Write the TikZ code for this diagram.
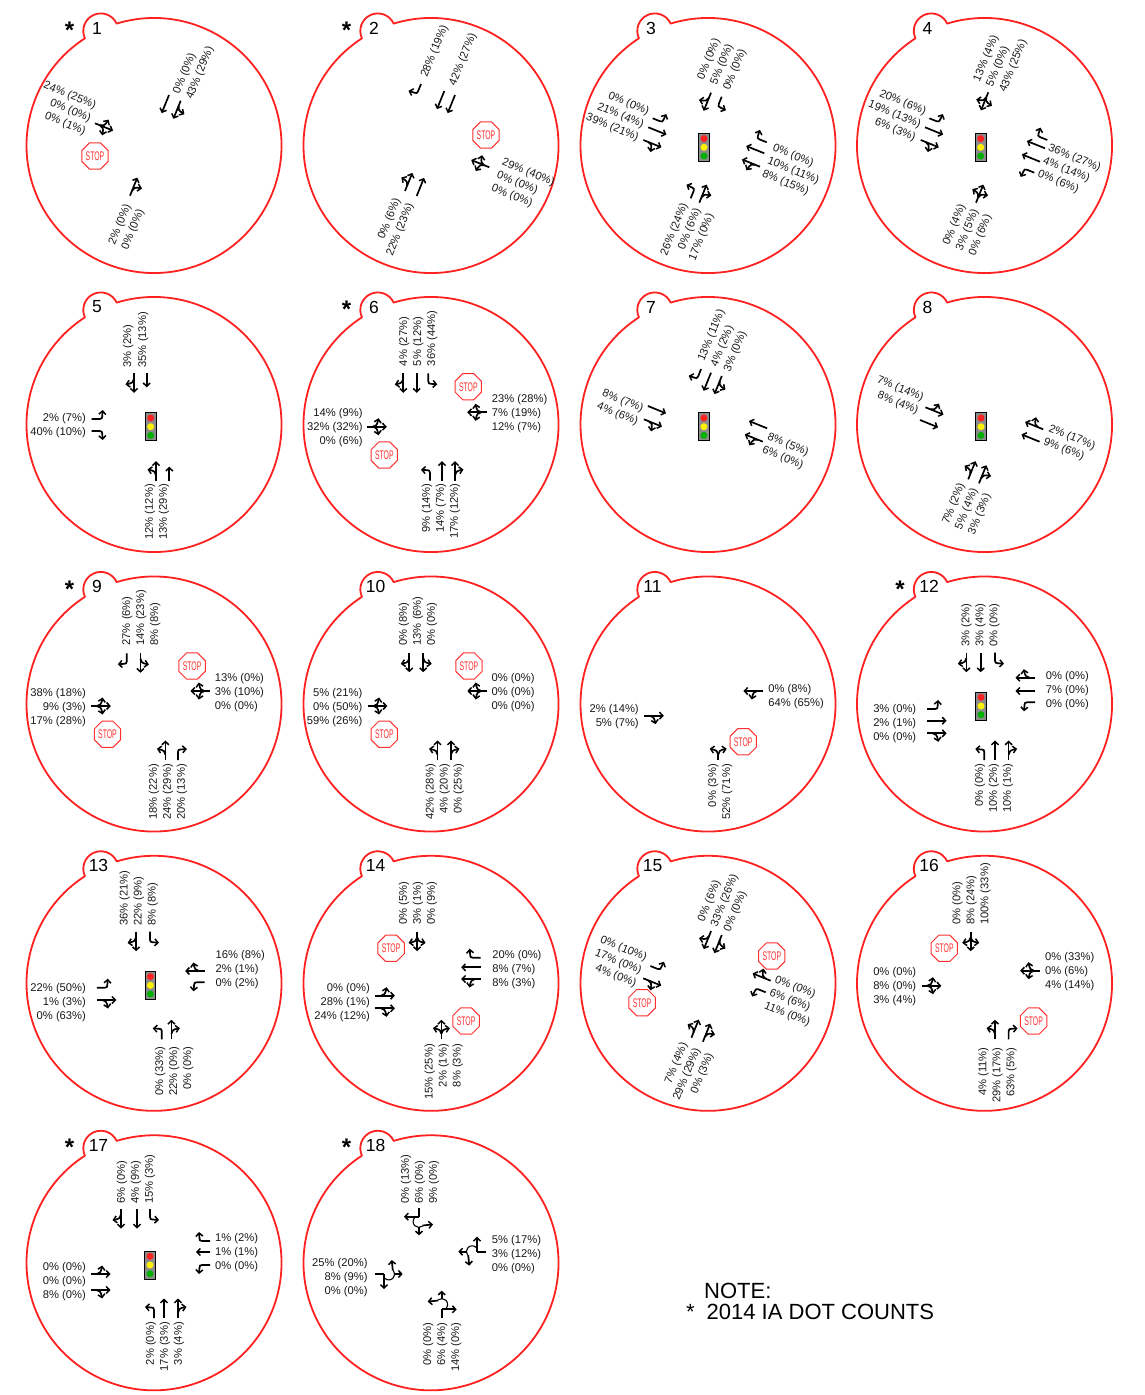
\documentclass[tikz,border=0pt]{standalone}
\usepackage{fontspec}
\setmainfont{Liberation Sans}
\usetikzlibrary{arrows.meta,calc,shapes.geometric}
\definecolor{ringred}{HTML}{FF2020}
\definecolor{stopred}{HTML}{FF3030}
\definecolor{sigred}{HTML}{FF2020}
\definecolor{siggreen}{HTML}{00B000}
\newcount\lbcnt
\tikzset{
 ring/.style={draw=ringred,line width=1.8pt,line join=round},
 mv/.style={draw=black,line width=1.7pt,-{Straight Barb[length=3.3pt,width=7pt,line width=1.5pt]}},
 mvplain/.style={draw=black,line width=1.7pt},
 mvthin/.style={draw=black,line width=1.1pt},
 lab/.style={inner sep=0pt,font=\fontsize{11.2}{13}\selectfont,text=black!90},
 stopsign/.style={regular polygon,regular polygon sides=8,draw=stopred,line width=1pt,fill=white,minimum size=25pt,inner sep=0pt,text=stopred,font=\fontsize{12.5}{12.5}\selectfont},
 numlab/.style={inner sep=0pt,font=\fontsize{17.5}{20}\selectfont},
 starlab/.style={inner sep=0pt,anchor=base,font=\bfseries\fontsize{24}{26}\selectfont},
 notelab/.style={inner sep=0pt,anchor=base west,font=\fontsize{22}{24}\selectfont}
}
\newcommand\glT{\draw[mv](0,0)--(0,19.5);}
\newcommand\glS{\draw[mv](0,0)--(0,14);}
\newcommand\glL{\draw[mv](0,0)--(0,8) .. controls (0,10) and (-1,10.5) .. (-2.5,10.5) -- (-9,11);}
\newcommand\glR{\draw[mv](0,0)--(0,8) .. controls (0,10) and (1,10.5) .. (2.5,10.5) -- (9,11);}
\newcommand\brL{\draw[mv](0,5.5) .. controls (0,8.5) and (-2,10) .. (-8.5,11.2);}
\newcommand\brR{\draw[mv](0,5.5) .. controls (0,8.5) and (2,10) .. (8.5,11.2);}
\newcommand\glLT{\brL\glT}
\newcommand\glTR{\brR\glT}
\newcommand\glLTR{\brL\brR\glT}
\newcommand\glLR{\draw[mvplain](0,0)--(0,7);\brL\brR}
\newcommand\glO{\draw[mvplain](0,0)--(0,9);
 \draw[mv](0,9)--(15,9);
 \draw[mvthin](4.2,9.8) arc[start angle=-45,end angle=130,radius=5.8];
 \draw[mv](0,19)--(0,27.7);
 \draw[mv](-3.5,17.8) -- (-14,16.7);}
\newcommand\Ar[4]{\begin{scope}[shift={(#1,-#2)},rotate=#3]\csname gl#4\endcsname\end{scope}}
\newcommand\Lb[5]{\foreach \lbl [count=\i from 0] in {#5}{%
  \global\advance\lbcnt by 1
  \node[lab,rotate=#3,anchor=mid #4] (t\the\lbcnt) at ($(#1,-#2)+(#3-90:\i*14+1.3)$) {\lbl};}}
\newcommand\Stop[2]{\global\advance\lbcnt by 1
  \node[stopsign] (s\the\lbcnt) at (#1,-#2) {\scalebox{.55}[1]{STOP}};}
\newcommand\Sig[2]{\begin{scope}[shift={(#1,-#2)}]
  \draw[fill=black!45,draw=black,line width=.8pt] (-5.3,-14) rectangle (5.3,14);
  \fill[sigred] (0,8.7) circle (3.5);
  \fill[yellow] (0,0) circle (3.5);
  \fill[siggreen] (0,-8.7) circle (3.5);
  \end{scope}}
\newcommand\Ring[4]{\begin{scope}[shift={(#1,-#2)}]
  \draw[ring] (107:127.5) arc[start angle=107,end angle=-237.2,radius=127.5] arc[start angle=205,end angle=25,radius=17.5] -- cycle;
  \ifnum#3>9 \node[numlab] (n#3) at (-55.5,117.5) {#3};\else \node[numlab] (n#3) at (-57,117.5) {#3};\fi
  \ifnum#4=1 \node[starlab] (st#3) at (-84.5,107) {*};\fi
  \end{scope}}
\begin{document}
\begin{tikzpicture}[x=1pt,y=1pt]
\useasboundingbox (0,0) rectangle (1144,-1395);
% 1
\Ring{154}{145.5}{1}{1}
\Ar{95}{123.3}{-112}{LTR}
\Ar{130}{195.7}{-22}{TR}
\Ar{169}{95}{158}{T}
\Ar{180.7}{100.7}{158}{LT}
\Stop{95}{156}
\Lb{96}{105}{-22}{east}{24\% (25\%),0\% (0\%),0\% (1\%)}
\Lb{127.3}{204}{68}{east}{2\% (0\%),0\% (0\%)}
\Lb{175.7}{93.3}{68}{west}{0\% (0\%),43\% (29\%)}
% 2
\Ring{431}{145.5}{2}{1}
\Ar{421}{84}{158}{R}
\Ar{444.3}{91}{158}{T}
\Ar{455}{95}{158}{T}
\Ar{405}{191}{-22}{LT}
\Ar{416.7}{196}{-22}{T}
\Ar{489.3}{167.3}{68}{LTR}
\Stop{486}{135}
\Lb{502.7}{161}{-22}{west}{29\% (40\%),0\% (0\%),0\% (0\%)}
\Lb{423.3}{76.7}{68}{west}{28\% (19\%)}
\Lb{451.7}{85}{68}{west}{42\% (27\%)}
\Lb{396.7}{198.3}{68}{east}{0\% (6\%),22\% (23\%)}
% 3
\Ring{708}{145.5}{3}{0}
\Sig{704}{147.3}
\Ar{711}{92.7}{158}{TR}
\Ar{721.7}{96.7}{158}{L}
\Lb{700}{79}{68}{west}{0\% (0\%),5\% (0\%),0\% (0\%)}
\Ar{652.7}{118.3}{-112}{L}
\Ar{648.3}{127.3}{-112}{T}
\Ar{643.3}{140}{-112}{TR}
\Lb{649}{111}{-22}{east}{0\% (0\%),21\% (4\%),39\% (21\%)}
\Ar{766.7}{142.3}{68}{R}
\Ar{764.3}{153.3}{68}{T}
\Ar{760}{166.7}{68}{LT}
\Lb{773.3}{146.7}{-22}{west}{0\% (0\%),10\% (11\%),8\% (15\%)}
\Ar{690.7}{198.3}{-22}{L}
\Ar{699.3}{202.7}{-22}{TR}
\Lb{684}{203.3}{68}{east}{26\% (24\%),0\% (6\%),17\% (0\%)}
% 4
\Ring{984.5}{145.5}{4}{0}
\Sig{980.7}{147.3}
\Ar{988.3}{92.3}{158}{LTR}
\Lb{976}{81}{68}{west}{13\% (4\%),5\% (0\%),43\% (25\%)}
\Ar{929.3}{118.3}{-112}{L}
\Ar{925}{127.3}{-112}{T}
\Ar{920.7}{140}{-112}{TR}
\Lb{926}{111}{-22}{east}{20\% (6\%),19\% (13\%),6\% (3\%)}
\Ar{1047.3}{140}{68}{R}
\Ar{1045}{148.3}{68}{T}
\Ar{1040}{161.7}{68}{T}
\Ar{1034.3}{172.7}{68}{L}
\Lb{1049}{146.7}{-22}{west}{36\% (27\%),4\% (14\%),0\% (6\%)}
\Ar{976}{202.7}{-22}{LTR}
\Lb{961.7}{204.3}{68}{east}{0\% (4\%),3\% (5\%),0\% (6\%)}
% 5
\Ring{154}{424.5}{5}{0}
\Sig{150.7}{426.7}
\Ar{134}{373.3}{180}{TR}
\Ar{146.7}{373.3}{180}{S}
\Lb{127.3}{367.7}{90}{west}{3\% (2\%)}
\Lb{142.3}{367.7}{90}{west}{35\% (13\%)}
\Ar{91.7}{419}{-90}{L}
\Ar{91.7}{431}{-90}{R}
\Lb{86}{417.7}{0}{east}{2\% (7\%),40\% (10\%)}
\Ar{156}{480.7}{0}{LT}
\Ar{169.3}{480.7}{0}{S}
\Lb{149}{484}{90}{east}{12\% (12\%),13\% (29\%)}
% 6
\Ring{431}{424.5}{6}{1}
\Ar{403.3}{373.3}{180}{TR}
\Ar{416.7}{373.3}{180}{T}
\Ar{428.3}{373.3}{180}{L}
\Lb{403.3}{366.3}{90}{west}{4\% (27\%),5\% (12\%),36\% (44\%)}
\Ar{486.7}{412.3}{90}{LTR}
\Lb{491.7}{398.3}{0}{west}{23\% (28\%),7\% (19\%),12\% (7\%)}
\Ar{367.3}{426.7}{-90}{LTR}
\Lb{362.7}{412.7}{0}{east}{14\% (9\%),32\% (32\%),0\% (6\%)}
\Ar{430}{480.7}{0}{L}
\Ar{442}{480.7}{0}{T}
\Ar{455}{480.7}{0}{TR}
\Lb{426}{483.3}{90}{east}{9\% (14\%),14\% (7\%),17\% (12\%)}
\Stop{468.3}{386.7}
\Stop{384.3}{455}
% 7
\Ring{708}{424.5}{7}{0}
\Sig{703.9}{426.7}
\Ar{701.1}{369}{158}{R}
\Ar{711}{372.7}{158}{T}
\Ar{721.8}{376}{158}{LT}
\Lb{700.4}{360.7}{68}{west}{13\% (11\%),4\% (2\%),3\% (0\%)}
\Ar{647.9}{406}{-112}{T}
\Ar{643.9}{419.3}{-112}{TR}
\Lb{643.2}{408.3}{-22}{east}{8\% (7\%),4\% (6\%)}
\Ar{767.1}{428.3}{68}{T}
\Ar{762.9}{441.7}{68}{LT}
\Lb{768.2}{435.7}{-22}{west}{8\% (5\%),6\% (0\%)}
% 8
\Ring{984.5}{424.5}{8}{0}
\Sig{981}{426.7}
\Ar{925.4}{407.3}{-112}{LT}
\Ar{920}{420}{-112}{T}
\Lb{923.6}{397.3}{-22}{east}{7\% (14\%),8\% (4\%)}
\Ar{1043.2}{429.3}{68}{TR}
\Ar{1039.6}{441.7}{68}{T}
\Lb{1049.3}{427.3}{-22}{west}{2\% (17\%),9\% (6\%)}
\Ar{968.2}{479.3}{-22}{LT}
\Ar{979}{483.3}{-22}{TR}
\Lb{961}{483.3}{68}{east}{7\% (2\%),5\% (4\%),3\% (3\%)}
% 9
\Ring{154}{704}{9}{1}
\Ar{126.8}{653.3}{180}{R}
\Ar{140.4}{653.3}{180}{LT}
\Lb{126.1}{645.7}{90}{west}{27\% (6\%),14\% (23\%),8\% (8\%)}
\Ar{210}{691}{90}{LTR}
\Lb{214.6}{677.7}{0}{west}{13\% (0\%),3\% (10\%),0\% (0\%)}
\Ar{91.4}{706}{-90}{LTR}
\Lb{86}{692.3}{0}{east}{38\% (18\%),9\% (3\%),17\% (28\%)}
\Ar{165.4}{760}{0}{LT}
\Ar{177.9}{760}{0}{R}
\Lb{152.9}{764}{90}{east}{18\% (22\%),24\% (29\%),20\% (13\%)}
\Stop{192.1}{666}
\Stop{107.5}{734.3}
% 10
\Ring{431}{704}{10}{0}
\Ar{409.3}{652.7}{180}{TR}
\Ar{423.2}{652.7}{180}{LT}
\Lb{402.9}{645.7}{90}{west}{0\% (8\%),13\% (6\%),0\% (0\%)}
\Ar{486.8}{691}{90}{LTR}
\Lb{491.4}{677.7}{0}{west}{0\% (0\%),0\% (0\%),0\% (0\%)}
\Ar{367.9}{706}{-90}{LTR}
\Lb{362.5}{692.3}{0}{east}{5\% (21\%),0\% (50\%),59\% (26\%)}
\Ar{437.5}{760}{0}{LT}
\Ar{451}{760}{0}{TR}
\Lb{429.6}{764}{90}{east}{42\% (28\%),4\% (20\%),0\% (25\%)}
\Stop{468.9}{666}
\Stop{384.3}{734.3}
% 11
\Ring{708}{704}{11}{0}
\Ar{762.9}{691}{90}{LT}
\Lb{768.2}{689}{0}{west}{0\% (8\%),64\% (65\%)}
\Ar{644.3}{715.7}{-90}{TR}
\Lb{638.9}{709}{0}{east}{2\% (14\%),5\% (7\%)}
\Ar{718.2}{760}{0}{LR}
\Lb{712.1}{764}{90}{east}{0\% (3\%),52\% (71\%)}
\Stop{743.2}{741.7}
% 12
\Ring{984.5}{704}{12}{1}
\Sig{981}{706}
\Ar{966.4}{652.7}{180}{TR}
\Ar{980.7}{652.7}{180}{T}
\Ar{995}{652.7}{180}{L}
\Lb{965.4}{646.7}{90}{west}{3\% (2\%),3\% (4\%),0\% (0\%)}
\Ar{1035}{677.7}{90}{TR}
\Ar{1035}{691}{90}{T}
\Ar{1035}{702.3}{90}{L}
\Lb{1045.7}{675.7}{0}{west}{0\% (0\%),7\% (0\%),0\% (0\%)}
\Ar{927.1}{709}{-90}{L}
\Ar{927.1}{720.7}{-90}{T}
\Ar{927.1}{733.3}{-90}{TR}
\Lb{916.4}{708.3}{0}{east}{3\% (0\%),2\% (1\%),0\% (0\%)}
\Ar{984.3}{760}{0}{L}
\Ar{995}{760}{0}{T}
\Ar{1008.6}{760}{0}{TR}
\Lb{978.9}{763.3}{90}{east}{0\% (0\%),10\% (2\%),10\% (1\%)}
% 13
\Ring{154}{983.3}{13}{0}
\Sig{150.4}{985.3}
\Ar{136.1}{931.7}{180}{TR}
\Ar{150}{931.7}{180}{L}
\Lb{123.6}{926}{90}{west}{36\% (21\%),22\% (9\%),8\% (8\%)}
\Ar{204.6}{971}{90}{TR}
\Ar{204.6}{982.3}{90}{L}
\Lb{215.4}{955}{0}{west}{16\% (8\%),2\% (1\%),0\% (2\%)}
\Ar{96.8}{987.7}{-90}{L}
\Ar{96.8}{1000}{-90}{TR}
\Lb{86.1}{987.7}{0}{east}{22\% (50\%),1\% (3\%),0\% (63\%)}
\Ar{161.8}{1039.3}{0}{L}
\Ar{171.4}{1039.3}{0}{TR}
\Lb{159.3}{1046.3}{90}{east}{0\% (33\%),22\% (0\%),0\% (0\%)}
% 14
\Ring{431}{983.3}{14}{0}
\Ar{417.1}{931.7}{180}{LTR}
\Lb{402.9}{925}{90}{west}{0\% (5\%),3\% (1\%),0\% (9\%)}
\Stop{391.1}{948.3}
\Ar{480.7}{957.7}{90}{R}
\Ar{480.7}{967.3}{90}{T}
\Ar{480.7}{979}{90}{LT}
\Lb{492.1}{955}{0}{west}{20\% (0\%),8\% (7\%),8\% (3\%)}
\Ar{375.4}{995.7}{-90}{LT}
\Ar{375.4}{1008.3}{-90}{TR}
\Lb{370}{988}{0}{east}{0\% (0\%),28\% (1\%),24\% (12\%)}
\Ar{441.4}{1039.3}{0}{LTR}
\Lb{428.6}{1044}{90}{east}{15\% (25\%),2\% (1\%),8\% (3\%)}
\Stop{466.1}{1021}
% 15
\Ring{708}{983.3}{15}{0}
\Ar{711.1}{931}{158}{TR}
\Ar{721.8}{935}{158}{LT}
\Lb{700.4}{920.7}{68}{west}{0\% (6\%),33\% (26\%),0\% (0\%)}
\Ar{770.7}{980.7}{68}{TR}
\Ar{765.7}{992.3}{68}{L}
\Lb{775.4}{978.3}{-22}{west}{0\% (0\%),6\% (6\%),11\% (0\%)}
\Ar{650.4}{966}{-112}{L}
\Ar{643.2}{978.3}{-112}{TR}
\Lb{646.8}{957.3}{-22}{east}{0\% (10\%),17\% (0\%),4\% (0\%)}
\Stop{771.8}{956}
\Stop{642.1}{1002.7}
\Ar{691.4}{1037.7}{-22}{LT}
\Ar{702.9}{1041.7}{-22}{TR}
\Lb{683.6}{1042.7}{68}{east}{7\% (4\%),29\% (29\%),0\% (3\%)}
% 16
\Ring{984.5}{983.3}{16}{0}
\Ar{970.7}{931.7}{180}{LTR}
\Lb{956.4}{925}{90}{west}{0\% (0\%),8\% (24\%),100\% (33\%)}
\Stop{944.3}{948.3}
\Ar{1039.6}{970.7}{90}{LTR}
\Lb{1045}{956.7}{0}{west}{0\% (33\%),0\% (6\%),4\% (14\%)}
\Ar{921.8}{985.7}{-90}{LTR}
\Lb{916.4}{971.7}{0}{east}{0\% (0\%),8\% (0\%),3\% (4\%)}
\Ar{995}{1039.3}{0}{LT}
\Ar{1008.6}{1039.3}{0}{R}
\Lb{982.5}{1047.3}{90}{east}{4\% (11\%),29\% (17\%),63\% (5\%)}
\Stop{1033.6}{1021}
% 17
\Ring{154}{1262.8}{17}{1}
\Sig{150}{1265}
\Ar{121}{1209}{180}{TR}
\Ar{137}{1209}{180}{T}
\Ar{150}{1209}{180}{L}
\Lb{121}{1204}{90}{west}{6\% (0\%),4\% (9\%),15\% (3\%)}
\Ar{210}{1241}{90}{R}
\Ar{210}{1252}{90}{S}
\Ar{210}{1265}{90}{L}
\Lb{215}{1238}{0}{west}{1\% (2\%),1\% (1\%),0\% (0\%)}
\Ar{91}{1274}{-90}{LT}
\Ar{91}{1290}{-90}{TR}
\Lb{86}{1266.5}{0}{east}{0\% (0\%),0\% (0\%),8\% (0\%)}
\Ar{154}{1318}{0}{L}
\Ar{164}{1318}{0}{T}
\Ar{178}{1318}{0}{TR}
\Lb{150}{1322}{90}{east}{2\% (0\%),17\% (3\%),3\% (4\%)}
% 18
\Ring{431}{1262.8}{18}{1}
\Ar{419}{1207.7}{180}{O}
\Ar{486}{1251.7}{90}{O}
\Ar{375}{1274}{-90}{O}
\Ar{441.7}{1318.3}{0}{O}
\Lb{405}{1204}{90}{west}{0\% (13\%),6\% (0\%),9\% (0\%)}
\Lb{491.7}{1240}{0}{west}{5\% (17\%),3\% (12\%),0\% (0\%)}
\Lb{367.7}{1262.7}{0}{east}{25\% (20\%),8\% (9\%),0\% (0\%)}
\Lb{427.3}{1322.3}{90}{east}{0\% (0\%),6\% (4\%),14\% (0\%)}
% note
\node[notelab] (note1) at (704,-1298.5) {NOTE:};
\node[notelab] (note2) at (686,-1319.5) {*};
\node[notelab] (note3) at (706.5,-1319.5) {2014 IA DOT COUNTS};
\end{tikzpicture}
\end{document}
